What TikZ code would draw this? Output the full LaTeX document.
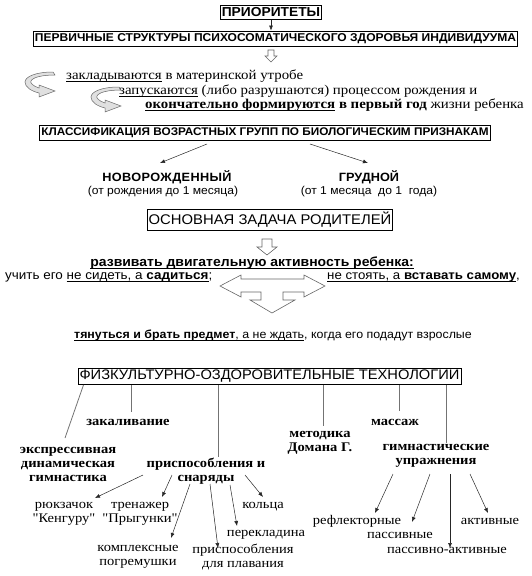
\documentclass[tikz,border=0pt]{standalone}
\usepackage{fontspec}
\setmainfont{Liberation Serif}[FakeStretch=1.10, Ligatures=TeXOff]
\setsansfont{Liberation Sans}[FakeStretch=1.06]
\usetikzlibrary{arrows.meta}
\newcommand\myfs[1]{\fontsize{#1}{#1}\selectfont}
\newcommand\myul[1]{\underline{\raisebox{0pt}[\height][0.5pt]{#1}}}
\begin{document}
\begin{tikzpicture}[x=1pt,y=-1pt,
  tbox/.style={draw, line width=0.8pt, inner xsep=1.5pt, inner ysep=2.5pt},
  lbl/.style={inner sep=0pt, align=center},
  arr/.style={-{Latex[length=5pt,width=4pt]}, black!85, line width=0.5pt},
  ln/.style={black!55, line width=0.8pt},
  hollow/.style={draw=black!60, fill=white, line width=0.6pt},
  curvarr/.pic={\draw[draw=black!60, fill=black!12, line width=0.5pt]
    (28,0) .. controls (10,0) and (0,5) .. (0,10) .. controls (0,15) and (6,19) .. (14,21)
    -- (14,25) -- (30,19) -- (14,13) -- (14,16)
    .. controls (8,14) and (5,11) .. (6,9) .. controls (8,5) and (18,3) .. (30,3) -- cycle;}
]
\useasboundingbox (0,0) rectangle (531,576);

% top
\node[tbox, font=\sffamily\bfseries\myfs{13}] (prio) at (271,12) {ПРИОРИТЕТЫ};
\node[tbox, font=\sffamily\bfseries\myfs{11.35}] (perv) at (275.5,38.5) {ПЕРВИЧНЫЕ СТРУКТУРЫ ПСИХОСОМАТИЧЕСКОГО ЗДОРОВЬЯ ИНДИВИДУУМА};
\draw[arr] (prio.south) -- (prio.south |- perv.north);
\draw[hollow] (268,50) -- (274,50) -- (274,56) -- (277,56) -- (271,62) -- (265,56) -- (268,56) -- cycle;

\pic at (25,72) {curvarr};
\pic at (91,87) {curvarr};
\node[lbl, anchor=west, font=\myfs{13.5}] (r1) at (66,76) {\myul{закладываются} в материнской утробе};
\node[lbl, anchor=west, font=\myfs{13.5}] (r2) at (119,91) {\myul{запускаются} (либо разрушаются) процессом рождения и};
\node[lbl, anchor=west, font=\myfs{13.5}] (r3) at (145,105) {\textbf{\myul{окончательно формируются} в первый год} жизни ребенка};

% classification
\node[tbox, font=\sffamily\bfseries\myfs{11.1}] (klass) at (265,132.5) {КЛАССИФИКАЦИЯ ВОЗРАСТНЫХ ГРУПП ПО БИОЛОГИЧЕСКИМ ПРИЗНАКАМ};
\node[lbl, font=\sffamily\bfseries\myfs{12}\addfontfeatures{LetterSpace=3}] (novo) at (167,177) {НОВОРОЖДЕННЫЙ};
\node[lbl, font=\sffamily\myfs{11.4}] (novos) at (163,192) {(от рождения до 1 месяца)};
\node[lbl, font=\sffamily\bfseries\myfs{12}] (grud) at (369,177) {ГРУДНОЙ};
\node[lbl, font=\sffamily\myfs{11.4}] (gruds) at (369,192) {(от 1 месяца\ \ до 1\ \ года)};
\coordinate (k1) at (207,144); \coordinate (n1) at (160,163);
\coordinate (k2) at (310,144); \coordinate (g1) at (368,163);
\draw[arr] (k1) -- (n1);
\draw[arr] (k2) -- (g1);

% main task
\node[tbox, font=\sffamily\myfs{14}] (task) at (270,220) {ОСНОВНАЯ ЗАДАЧА РОДИТЕЛЕЙ};
\draw[hollow] (262,239) -- (272,239) -- (272,247) -- (277,247) -- (267,255) -- (257,247) -- (262,247) -- cycle;
\node[lbl, font=\sffamily\bfseries\myfs{13.2}] (dev) at (252,263) {\myul{развивать двигательную активность ребенка:}};
\node[lbl, anchor=west, font=\sffamily\myfs{12.7}] (sit) at (5,277) {учить его \myul{не сидеть, а \textbf{садиться}};};
\node[lbl, anchor=west, font=\sffamily\myfs{12.5}] (stand) at (327,277) {\myul{не стоять, а \textbf{вставать самому}},};
\draw[hollow] (220,286) -- (241,275) -- (241,279) -- (304,279) -- (304,275) -- (325,286)
  -- (304,297) -- (304,292) -- (283,292) -- (283,300) -- (295,300) -- (272,313)
  -- (250,300) -- (261,300) -- (261,292) -- (241,292) -- (241,297) -- cycle;
\node[lbl, font=\sffamily\myfs{11.7}] (reach) at (273,335) {\myul{\textbf{тянуться и брать предмет}, а не ждать}, когда его подадут взрослые};

% technologies
\node[tbox, font=\sffamily\myfs{13.85}, inner ysep=1.8pt] (tech) at (269.5,376.5) {ФИЗКУЛЬТУРНО-ОЗДОРОВИТЕЛЬНЫЕ ТЕХНОЛОГИИ};
\node[lbl, font=\bfseries\fontsize{13.2}{14}\selectfont] (expr) at (68,464) {экспрессивная\\динамическая\\гимнастика};
\node[lbl, font=\bfseries\myfs{13.2}] (zak) at (128,422) {закаливание};
\node[lbl, font=\bfseries\fontsize{13.2}{14}\selectfont] (pris) at (206,471) {приспособления и\\снаряды};
\node[lbl, font=\bfseries\fontsize{13.2}{14}\selectfont] (meto) at (320,443) {методика\\Домана Г.};
\node[lbl, font=\bfseries\myfs{13.2}] (mass) at (395,422) {массаж};
\node[lbl, font=\bfseries\fontsize{13.2}{14}\selectfont] (gym) at (436,456) {гимнастические\\упражнения};

\draw[ln] ([xshift=-186pt]tech.south) -- (65,438);
\draw[ln] ([xshift=-138pt]tech.south) -- ++(0,27);
\draw[ln] ([xshift=-51pt]tech.south) -- ++(0,72);
\draw[ln] ([xshift=54pt]tech.south) -- ++(0,41);
\draw[ln] ([xshift=130pt]tech.south) -- ++(0,26);
\draw[ln] ([xshift=177pt]tech.south) -- ++(0,58);

% bottom labels
\node[lbl, font=\fontsize{13.2}{14}\selectfont] (ruk) at (64,514) {рюкзачок\\"Кенгуру"};
\node[lbl, font=\fontsize{13.2}{14}\selectfont] (tren) at (140,514) {тренажер\\"Прыгунки"};
\node[lbl, font=\myfs{13.2}] (kol) at (263,507) {кольца};
\node[lbl, font=\myfs{13.2}] (perek) at (266,535) {перекладина};
\node[lbl, font=\fontsize{13.2}{14}\selectfont] (kompl) at (138,557) {комплексные\\погремушки};
\node[lbl, font=\fontsize{13.2}{14}\selectfont] (plav) at (243,557) {приспособления\\для плавания};
\node[lbl, font=\myfs{13.2}] (refl) at (357,521) {рефлекторные};
\node[lbl, font=\myfs{13.2}] (pass) at (400,535) {пассивные};
\node[lbl, font=\myfs{13.2}] (pa) at (447,550) {пассивно-активные};
\node[lbl, font=\myfs{13.2}] (akt) at (490,521) {активные};

\coordinate (p1) at (143,475); \coordinate (q1) at (95,498);
\coordinate (p2) at (172,475); \coordinate (q2) at (162,497);
\coordinate (p3) at (190,484); \coordinate (q3) at (171,538);
\coordinate (p4) at (210,484); \coordinate (q4) at (218,548);
\coordinate (p5) at (230,485); \coordinate (q5) at (237,526);
\coordinate (p6) at (245,475); \coordinate (q6) at (263,497);
\draw[arr] (p1) -- (q1);
\draw[arr] (p2) -- (q2);
\draw[arr] (p3) -- (q3);
\draw[arr] (p4) -- (q4);
\draw[arr] (p5) -- (q5);
\draw[arr] (p6) -- (q6);

\coordinate (s1) at (393,474); \coordinate (t1) at (375,513);
\coordinate (s2) at (430,474); \coordinate (t2) at (412,522);
\coordinate (s3) at (450,474); \coordinate (t3) at (450,548);
\coordinate (s4) at (470,474); \coordinate (t4) at (488,513);
\draw[arr] (s1) -- (t1);
\draw[arr] (s2) -- (t2);
\draw[arr] (s3) -- (t3);
\draw[arr] (s4) -- (t4);
\end{tikzpicture}
\end{document}
